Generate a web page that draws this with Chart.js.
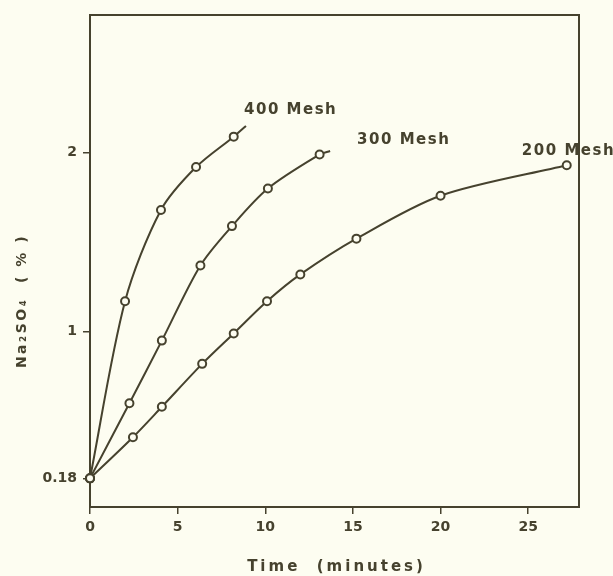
<!DOCTYPE html>
<html>
<head>
<meta charset="utf-8">
<script src="https://cdn.jsdelivr.net/npm/chart.js@4.4.1/dist/chart.umd.min.js"></script>
<style>
  html, body { margin: 0; padding: 0; background: #fdfdf1; }
  #wrap { width: 613px; height: 576px; position: relative; }
</style>
</head>
<body>
<div id="wrap"><canvas id="c" width="613" height="576"></canvas></div>
<script>
// ---- data ----
const xTicks = [0, 5, 10, 15, 20, 25];
const yTicks = [0.18, 1, 2];
const yTickLabels = ['0.18', '1', '2'];

// 400 Mesh (last entry = curve tail, no marker)
const time400 = [0, 2.0, 4.05, 6.05, 8.2, 8.9];
const na400   = [0.18, 1.17, 1.68, 1.92, 2.09, 2.15];
// 300 Mesh (last entry = curve tail, no marker)
const time300 = [0, 2.25, 4.1, 6.3, 8.1, 10.15, 13.1, 13.7];
const na300   = [0.18, 0.60, 0.95, 1.37, 1.59, 1.80, 1.99, 2.01];
// 200 Mesh
const time200 = [0, 2.45, 4.1, 6.4, 8.2, 10.1, 12.0, 15.2, 20.0, 27.2];
const na200   = [0.18, 0.41, 0.58, 0.82, 0.99, 1.17, 1.32, 1.52, 1.76, 1.93];

const seriesNames = ['400 Mesh', '300 Mesh', '200 Mesh'];
const hasTail = [true, true, false];
// label anchors (data coordinates of label centre)
const labelX = [11.45, 17.9, 27.3];
const labelY = [2.24, 2.07, 2.01];

const xTitle = 'Time  (minutes)';
const yTitle = 'Na\u2082SO\u2084  ( % )';

const INK = '#46422e';
const BG = '#fdfdf1';

function pts(xs, ys) { return xs.map((x, i) => ({ x: x, y: ys[i] })); }
const allX = [time400, time300, time200];
const allY = [na400, na300, na200];

const datasets = allX.map((xs, k) => ({
  label: seriesNames[k],
  data: pts(xs, allY[k]),
  borderColor: INK,
  borderWidth: 2,
  backgroundColor: BG,
  pointBackgroundColor: BG,
  pointBorderColor: INK,
  pointBorderWidth: 2,
  pointRadius: (ctx) => (hasTail[k] && ctx.dataIndex === xs.length - 1) ? 0 : 4,
  tension: 0.3,
  fill: false,
  clip: false
}));

const decor = {
  id: 'decor',
  beforeDraw(chart) {
    const ctx = chart.ctx;
    ctx.save();
    ctx.fillStyle = BG;
    ctx.fillRect(0, 0, chart.width, chart.height);
    ctx.restore();
  },
  beforeDatasetsDraw(chart) {
    const { ctx, chartArea: a } = chart;
    ctx.save();
    ctx.strokeStyle = INK;
    ctx.lineWidth = 2;
    ctx.strokeRect(a.left, a.top, a.right - a.left, a.bottom - a.top);
    ctx.restore();
  },
  afterDraw(chart) {
    const ctx = chart.ctx;
    const xs = chart.scales.x, ys = chart.scales.y;
    ctx.save();
    ctx.fillStyle = INK;
    ctx.textAlign = 'center';
    ctx.textBaseline = 'middle';
    // series labels
    ctx.font = 'bold 15px "DejaVu Sans"';
    ctx.letterSpacing = '1.5px';
    seriesNames.forEach((n, i) => {
      ctx.fillText(n, xs.getPixelForValue(labelX[i]), ys.getPixelForValue(labelY[i]));
    });
    // x title
    ctx.font = 'bold 15px "DejaVu Sans"';
    ctx.letterSpacing = '3px';
    ctx.fillText(xTitle, (chart.chartArea.left + chart.chartArea.right) / 2 + 2, 567);
    // y title
    ctx.translate(22, 301);
    ctx.rotate(-Math.PI / 2);
    ctx.font = 'bold 14px "DejaVu Sans"';
    ctx.letterSpacing = '2.5px';
    ctx.fillText(yTitle, 0, 0);
    ctx.restore();
  }
};

new Chart(document.getElementById('c'), {
  type: 'line',
  data: { datasets },
  options: {
    responsive: false,
    animation: false,
    devicePixelRatio: 1,
    layout: { padding: { left: 0, top: 15, right: 34, bottom: 0 } },
    plugins: { legend: { display: false }, tooltip: { enabled: false } },
    scales: {
      x: {
        type: 'linear',
        min: 0,
        max: 27.9,
        afterBuildTicks: (s) => { s.ticks = xTicks.map(v => ({ value: v })); },
        afterFit: (s) => { s.height = 69; },
        border: { display: false },
        grid: { drawOnChartArea: false, drawTicks: true, tickLength: 7, color: INK, lineWidth: 1.5 },
        ticks: { color: INK, padding: 5, font: { family: 'DejaVu Sans', size: 14, weight: 'bold' }, maxRotation: 0 }
      },
      y: {
        type: 'linear',
        min: 0.02,
        max: 2.77,
        afterBuildTicks: (s) => { s.ticks = yTicks.map(v => ({ value: v })); },
        afterFit: (s) => { s.width = 90; },
        border: { display: false },
        grid: { drawOnChartArea: false, drawTicks: true, tickLength: 7, color: INK, lineWidth: 1.5 },
        ticks: {
          color: INK, padding: 6,
          font: { family: 'DejaVu Sans', size: 14, weight: 'bold' },
          callback: (v) => { const i = yTicks.indexOf(v); return i >= 0 ? yTickLabels[i] : ''; }
        }
      }
    }
  },
  plugins: [decor]
});
</script>
</body>
</html>
